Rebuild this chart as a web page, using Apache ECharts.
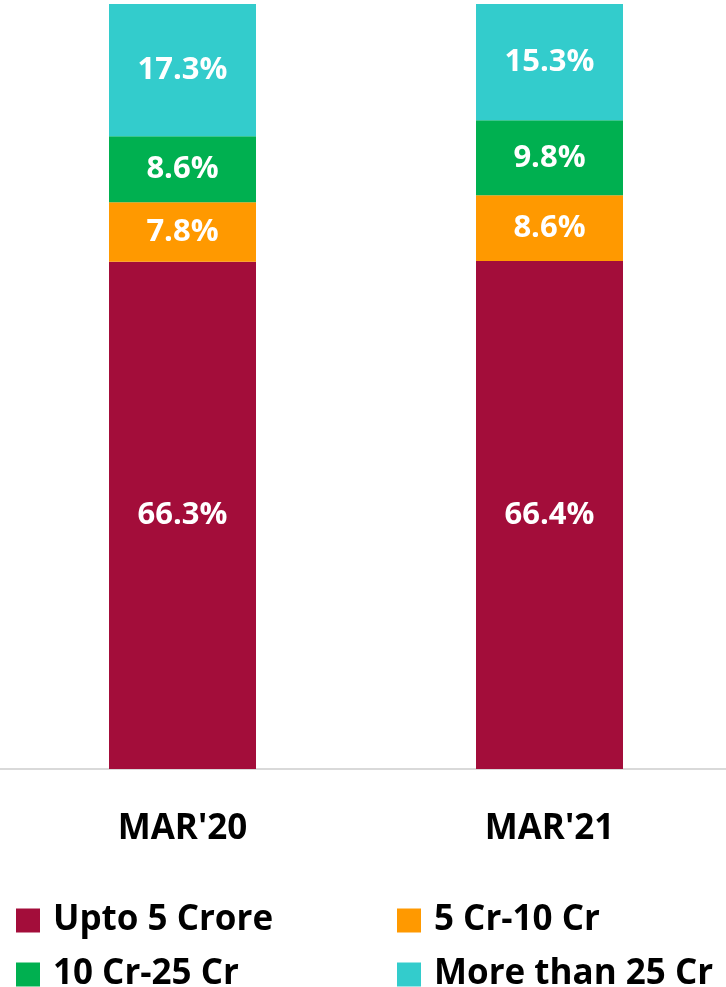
<!DOCTYPE html>
<html>
<head>
<meta charset="utf-8">
<script src="https://cdn.jsdelivr.net/npm/echarts@6/dist/echarts.min.js"></script>
<style>
html,body{margin:0;padding:0;background:#fff;overflow:hidden;}
#c{width:734px;height:987px;margin-left:-1px;}
</style>
</head>
<body>
<div id="c"></div>
<script>
var categories = ["MAR'20", "MAR'21"];
var seriesNames = ["Upto 5 Crore", "5 Cr-10 Cr", "10 Cr-25 Cr", "More than 25 Cr"];
var upto5 = [66.3, 66.4];
var cr5to10 = [7.8, 8.6];
var cr10to25 = [8.6, 9.8];
var above25 = [17.3, 15.3];
var colors = ["#a30d3a", "#ff9900", "#00b050", "#33cccc"];

var FONT = "'Open Sans', sans-serif";
var values = [upto5, cr5to10, cr10to25, above25];

var chart = echarts.init(document.getElementById('c'), null, {renderer: 'canvas'});

var series = seriesNames.map(function (name, i) {
  return {
    name: name,
    type: 'bar',
    stack: 'total',
    data: values[i],
    barWidth: 147,
    itemStyle: {color: colors[i]},
    label: {
      show: true,
      position: 'inside',
      color: '#ffffff',
      fontFamily: FONT,
      fontWeight: 'bold',
      fontSize: 31,
      formatter: function (p) { return p.value.toFixed(1) + '%'; }
    }
  };
});

var legendPos = [
  {left: 17, top: 903},
  {left: 398, top: 903},
  {left: 17, top: 957},
  {left: 398, top: 957}
];
var legends = seriesNames.map(function (name, i) {
  return {
    data: [name],
    left: legendPos[i].left,
    top: legendPos[i].top,
    orient: 'horizontal',
    itemWidth: 24,
    itemHeight: 24,
    icon: 'rect',
    selectedMode: false,
    padding: 0,
    textStyle: {
      fontFamily: FONT,
      fontWeight: 'bold',
      fontSize: 35,
      color: '#000000',
      lineHeight: 24,
      padding: [0, 0, 0, 8]
    }
  };
});

chart.setOption({
  animation: false,
  backgroundColor: '#ffffff',
  grid: {left: 0, right: 0, top: 4, bottom: 218, containLabel: false},
  legend: legends,
  xAxis: {
    type: 'category',
    data: categories,
    axisLine: {show: true, lineStyle: {color: '#d9d9d9', width: 2}},
    axisTick: {show: false},
    axisLabel: {
      color: '#000000',
      fontFamily: FONT,
      fontWeight: 'bold',
      fontSize: 35,
      margin: 43
    }
  },
  yAxis: {
    type: 'value',
    min: 0,
    max: 100,
    show: false,
    splitLine: {show: false}
  },
  series: series
});
</script>
</body>
</html>
